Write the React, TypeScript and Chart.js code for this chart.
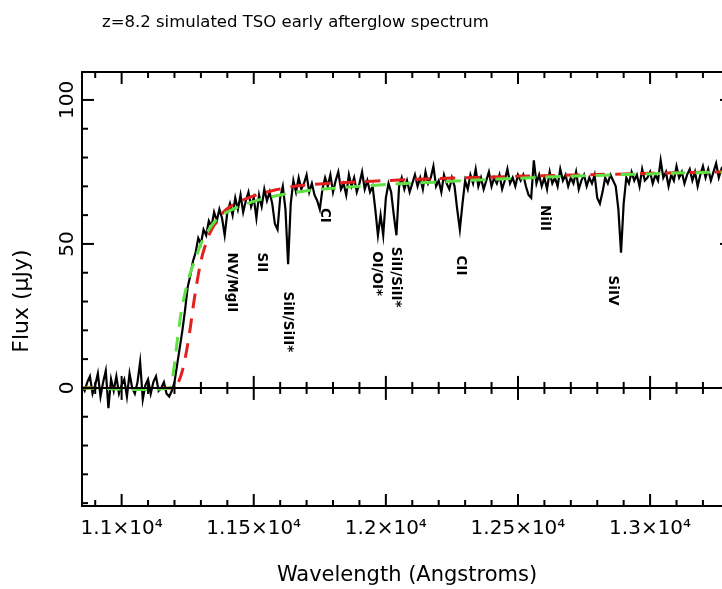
import React, { useEffect, useRef } from "react";
import { Chart, registerables } from "chart.js";

Chart.register(...registerables);

// Observed spectrum: regular 10 Å sampling starting at waveStart
const waveStart = 10850;
const waveStep = 10;
const fluxObserved = [
  0.5, -1, 2, 4, -2, 1, 5, -3, 2, 6,
  -7, 3, -1, 4, -2, 1, 3, -3, 5, 0,
  -2, 2, 9, -4, 1, 3, -2, 2, 4, -1,
  0, 2, -2, -3, -1, 2, 8, 14, 20, 27,
  35, 39, 44, 47, 52, 50, 55, 53, 58, 56,
  61, 58, 62, 59, 53, 61, 64, 60, 66, 62,
  67, 61, 65, 68, 63, 66, 59, 67, 63, 69,
  65, 68, 64, 57, 55, 66, 70, 62, 43, 64,
  72, 68, 73, 69, 71, 74, 68, 71, 67, 65,
  62, 69, 73, 70, 74, 68, 72, 75, 69, 71,
  67, 74, 70, 73, 68, 71, 75, 69, 72, 68,
  70, 62, 53, 60, 53, 66, 71, 68, 60, 53,
  70, 73, 69, 72, 68, 71, 74, 70, 73, 69,
  75, 71, 73, 77, 70, 72, 68, 74, 71, 69,
  73, 70, 62, 55, 64, 72, 69, 74, 71, 76,
  70, 73, 69, 72, 75, 70, 73, 71, 74, 69,
  72, 76, 71, 73, 70, 74, 72, 74, 70, 67,
  66, 79, 71, 74, 70, 73, 69, 75, 71, 73,
  70, 76, 72, 74, 70, 73, 71, 75, 69, 72,
  74, 70, 73, 71, 74, 66, 64, 68, 73, 71,
  74, 72, 70, 62, 47, 64, 73, 71, 75, 72,
  74, 70, 76, 72, 73, 75, 71, 74, 72, 79,
  73, 75, 70, 74, 72, 77, 73, 75, 71, 74,
  76, 72, 75, 70, 74, 77, 73, 76, 72, 75,
  78, 73, 76, 74, 77, 75, 74,
];

// Red dashed model
const redWave = [10850, 11200, 11215, 11230, 11246, 11260, 11272, 11284, 11300, 11315, 11335, 11360, 11390, 11420, 11460, 11520, 11580, 11640, 11700, 11800, 11900, 12000, 12100, 12200, 12300, 12400, 12500, 12600, 12700, 12800, 12900, 13000, 13100, 13200, 13310];
const redFlux = [0, 0, 2, 6, 13, 21, 29, 36, 44, 49, 54, 58, 61.5, 63.5, 65.3, 67.3, 68.7, 69.8, 70.5, 71.1, 71.6, 72, 72.4, 72.7, 73, 73.2, 73.5, 73.7, 73.9, 74.1, 74.3, 74.5, 74.7, 74.9, 75.1];

// Green dashed model
const greenWave = [10850, 11180, 11195, 11210, 11225, 11240, 11260, 11280, 11300, 11320, 11350, 11380, 11420, 11460, 11520, 11600, 11700, 11800, 11900, 12000, 12100, 12200, 12300, 12400, 12500, 12600, 12700, 12800, 12900, 13000, 13100, 13200, 13310];
const greenFlux = [0, 0, 5, 16, 26, 33, 40, 45, 50, 53.5, 57.5, 60, 62, 63.5, 65.3, 67, 68.5, 69.3, 70, 70.6, 71.1, 71.5, 72, 72.4, 72.8, 73.2, 73.5, 73.8, 74.1, 74.3, 74.6, 74.8, 75];

// Axis ticks
const xTickValues = [11000, 11500, 12000, 12500, 13000];
const xTickLabels = ["1.1×10⁴", "1.15×10⁴", "1.2×10⁴", "1.25×10⁴", "1.3×10⁴"];
const yTickValues = [0, 50, 100];
const yTickLabels = ["0", "50", "100"];

// Absorption line identifications (wavelength, flux at top of label)
const lineNames = ["NV/MgII", "SII", "SiII/SiII*", "CI", "OI/OI*", "SiII/SiII*", "CII", "NiII", "SiIV"];
const lineWaves = [11416, 11529, 11627, 11766, 11966, 12037, 12282, 12599, 12859];
const lineTops = [47, 47, 33.5, 62.5, 47.5, 49, 46, 63.5, 39];

const titleText = "z=8.2 simulated TSO early afterglow spectrum";
const xTitle = "Wavelength (Angstroms)";
const yTitle = "Flux (μJy)";

const FONT = "DejaVu Sans";

const decorPlugin = {
  id: "decor",
  afterDraw(chart: any) {
    const { ctx, chartArea: a, scales } = chart;
    const xs = scales.x;
    const ys = scales.y;
    ctx.save();
    ctx.strokeStyle = "#000";
    ctx.fillStyle = "#000";
    ctx.lineWidth = 2;
    ctx.lineCap = "butt";
    const seg = (x1: number, y1: number, x2: number, y2: number) => {
      ctx.beginPath();
      ctx.moveTo(x1, y1);
      ctx.lineTo(x2, y2);
      ctx.stroke();
    };
    // frame
    ctx.strokeRect(a.left, a.top, a.right - a.left, a.bottom - a.top);
    // zero line
    const y0 = ys.getPixelForValue(0);
    seg(a.left, y0, a.right, y0);
    // x ticks
    for (let w = 10900; w <= 13300; w += 100) {
      const px = xs.getPixelForValue(w);
      const major = w % 500 === 0;
      const L = major ? 12 : 6;
      seg(px, a.bottom, px, a.bottom - L);
      seg(px, a.top, px, a.top + L);
      seg(px, y0 - L, px, y0 + L);
    }
    // y ticks
    for (let v = -40; v <= 100; v += 10) {
      const py = ys.getPixelForValue(v);
      const major = v % 50 === 0;
      const L = major ? 12 : 6;
      seg(a.left, py, a.left + L, py);
      seg(a.right, py, a.right - L, py);
    }
    // y tick labels (rotated)
    ctx.font = `20px "${FONT}"`;
    ctx.textAlign = "center";
    ctx.textBaseline = "middle";
    yTickValues.forEach((v, i) => {
      const py = ys.getPixelForValue(v);
      ctx.save();
      ctx.translate(68, py);
      ctx.rotate(-Math.PI / 2);
      ctx.fillText(yTickLabels[i], 0, 0);
      ctx.restore();
    });
    // y title
    ctx.save();
    ctx.font = `22px "${FONT}"`;
    ctx.translate(22, 301);
    ctx.rotate(-Math.PI / 2);
    ctx.fillText(yTitle, 0, 0);
    ctx.restore();
    // chart title
    ctx.font = `16.5px "${FONT}"`;
    ctx.textAlign = "left";
    ctx.textBaseline = "alphabetic";
    ctx.fillText(titleText, 102, 27);
    // line labels
    ctx.font = `bold 13.5px "${FONT}"`;
    ctx.textAlign = "left";
    ctx.textBaseline = "middle";
    lineNames.forEach((name, i) => {
      const px = xs.getPixelForValue(lineWaves[i]);
      const py = ys.getPixelForValue(lineTops[i]);
      ctx.save();
      ctx.translate(px, py);
      ctx.rotate(Math.PI / 2);
      ctx.fillText(name, 0, 0);
      ctx.restore();
    });
    ctx.restore();
  },
};

export default function App() {
  const ref = useRef<HTMLCanvasElement>(null);
  useEffect(() => {
    const observed = fluxObserved.map((f, i) => ({ x: waveStart + i * waveStep, y: f }));
    const red = redWave.map((w, i) => ({ x: w, y: redFlux[i] }));
    const green = greenWave.map((w, i) => ({ x: w, y: greenFlux[i] }));
    const chart = new Chart(ref.current as HTMLCanvasElement, {
      type: "line",
      data: {
        datasets: [
          {
            label: "model B",
            data: green,
            borderColor: "#5fe045",
            borderWidth: 3,
            borderDash: [15, 10],
            pointRadius: 0,
            tension: 0.3,
            fill: false,
          },
          {
            label: "model A",
            data: red,
            borderColor: "#e3201b",
            borderWidth: 3,
            borderDash: [15, 10],
            pointRadius: 0,
            tension: 0.3,
            fill: false,
          },
          {
            label: "spectrum",
            data: observed,
            borderColor: "#000000",
            borderWidth: 2.2,
            pointRadius: 0,
            tension: 0,
            fill: false,
          },
        ],
      },
      options: {
        animation: false,
        responsive: false,
        devicePixelRatio: 1,
        layout: { padding: { left: 82, top: 72, right: 28, bottom: 0 } },
        plugins: {
          legend: { display: false },
          tooltip: { enabled: false },
          title: { display: false },
        },
        scales: {
          x: {
            type: "linear",
            min: 10850,
            max: 13310,
            grid: { display: false, drawTicks: false },
            border: { display: false },
            afterBuildTicks: (s: any) => {
              s.ticks = xTickValues.map((v) => ({ value: v }));
            },
            afterFit: (s: any) => {
              s.height = 83;
            },
            ticks: {
              color: "#000",
              font: { family: FONT, size: 20 },
              padding: 11,
              minRotation: 0,
              maxRotation: 0,
              autoSkip: false,
              callback: (_v: any, i: number) => xTickLabels[i],
            },
            title: {
              display: true,
              text: xTitle,
              color: "#000",
              font: { family: FONT, size: 21 },
              padding: { top: 0, bottom: 1 },
            },
          },
          y: {
            type: "linear",
            min: -41,
            max: 109.7,
            display: false,
          },
        },
      },
      plugins: [decorPlugin],
    } as any);
    return () => chart.destroy();
  }, []);
  return (
    <div
      style={{
        position: "fixed",
        left: 0,
        top: 0,
        width: 722,
        height: 589,
        overflow: "hidden",
        background: "#fff",
      }}
    >
      <canvas ref={ref} width={760} height={589} style={{ display: "block" }} />
    </div>
  );
}
